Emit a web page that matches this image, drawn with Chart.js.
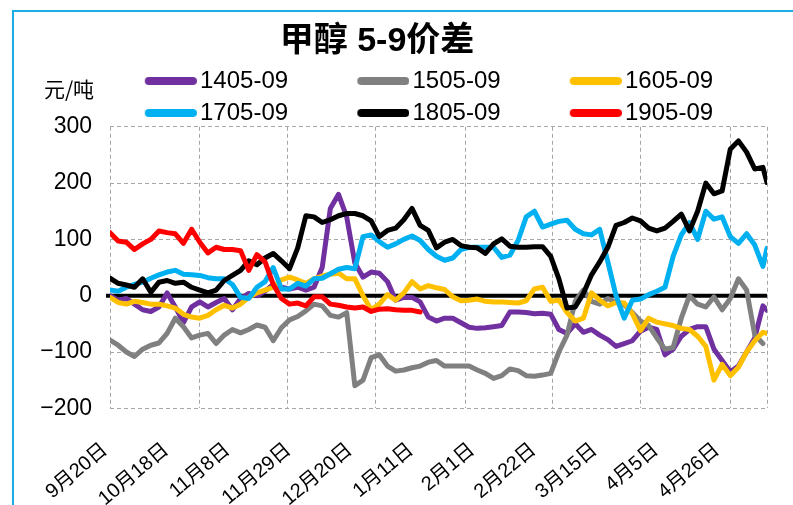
<!DOCTYPE html>
<html><head><meta charset="utf-8">
<script src="https://cdn.jsdelivr.net/npm/chart.js@4"></script>
<style>
html,body{margin:0;padding:0;background:#fff;}
#wrap{position:relative;width:793px;height:505px;overflow:hidden;background:#fff;}
#frame{position:absolute;left:12px;top:10px;width:820px;height:540px;border-left:2px solid #1AADE6;border-top:2px solid #1AADE6;box-sizing:border-box;}
#c{position:absolute;left:0;top:0;}
</style></head><body>
<div id="wrap"><div id="frame"></div><canvas id="c" width="793" height="505"></canvas></div>
<script>
// ---- DATA (x = trading-day index since 9月20日) ----
const tradingDay = [0,2,4,6,8,10,12,14,16,18,20,22,24,26,28,30,32,34,36,38,40,42,44,46,48,50,52,54,56,58,60,62,64,66,68,70,72,74,76,78,80,82,84,86,88,90,92,94,96,98,100,102,104,106,108,110,112,114,116,118,120,122,124,126,128,130,132,134,136,138,140,142,144,146,148,150,152,154,156,158,160,161];

const s1405 = [0,-8,-5,-15,-25,-28,-20,5,-20,-48,
  -20,-11,-20,-12,-5,-25,-5,4,0,8,
  20,15,12,15,10,15,50,155,180,140,
  58,33,42,40,25,-8,-3,-3,-11,-38,
  -45,-40,-40,-48,-56,-58,-57,-55,-53,-29,
  -29,-30,-32,-31,-33,-60,-67,-50,-65,-60,
  -70,-78,-90,-85,-80,-63,-56,-60,-105,-95,
  -72,-60,-55,-55,-95,-115,-135,-125,-100,-75,
  -18,-26];
const s1505 = [-79,-88,-100,-108,-95,-88,-84,-67,-40,-55,
  -75,-70,-67,-85,-70,-60,-66,-60,-52,-56,
  -80,-57,-43,-37,-27,-15,-18,-35,-38,-30,
  -160,-150,-110,-105,-125,-134,-132,-128,-125,-118,
  -115,-125,-125,-125,-125,-132,-138,-147,-142,-130,
  -133,-142,-143,-141,-138,-100,-70,-10,10,-10,
  -15,-5,-12,-16,-30,-45,-53,-75,-95,-92,
  -40,0,-15,-20,-2,-25,-5,30,10,-70,
  -85,null];
const s1605 = [-3,-12,-15,-10,-12,-15,-15,-18,-22,-33,
  -38,-40,-35,-25,-17,-22,-15,-3,5,10,
  15,28,33,28,22,30,35,38,40,30,
  30,0,-25,-15,2,-8,5,25,12,18,
  14,11,-2,-9,-8,-6,-10,-11,-11,-12,
  -13,-9,12,15,-10,-8,-30,-45,-40,5,
  -8,-18,-12,-13,-32,-62,-40,-47,-50,-53,
  -58,-60,-72,-90,-150,-122,-142,-127,-100,-80,
  -65,-67];
const s1705 = [10,8,15,20,24,31,37,42,45,38,
  37,36,32,30,30,20,-3,-5,15,25,
  50,12,12,22,17,30,31,39,47,50,
  48,105,108,96,86,92,100,106,98,82,
  70,63,67,82,86,86,86,86,68,72,
  98,140,150,122,127,132,134,118,110,108,
  118,60,0,-40,-8,-6,2,8,15,70,
  108,130,100,150,136,140,105,93,110,90,
  52,84];
const s1805 = [31,22,19,15,30,6,24,27,22,24,
  15,10,5,10,27,36,45,62,55,67,
  75,62,48,85,142,140,130,135,142,146,
  146,142,133,105,116,120,135,155,125,116,
  85,95,100,89,86,85,75,92,101,88,
  86,86,87,87,70,30,-22,-20,4,37,
  60,86,125,130,138,133,120,115,120,132,
  145,115,150,200,181,186,260,275,255,225,
  228,201];
const s1905 = [112,97,95,82,92,100,115,112,110,93,
  118,95,76,86,82,82,80,45,73,60,
  20,-5,-15,-13,-18,-2,-2,-15,-17,-20,
  -22,-20,-28,-24,-23,-25,-26,-26,-29,null,
  null,null,null,null,null,null,null,null,null,null,
  null,null,null,null,null,null,null,null,null,null,
  null,null,null,null,null,null,null,null,null,null,
  null,null,null,null,null,null,null,null,null,null,
  null,null];

const seriesNames = ['1405-09','1505-09','1605-09','1705-09','1805-09','1905-09'];
const seriesColors = ['#7030A0','#808080','#FFC000','#00B0F0','#000000','#FF0000'];
const seriesValues = [s1405, s1505, s1605, s1705, s1805, s1905];

const tickDays = [0,15,30,45,60,75,90,105,120,135,150];
const tickLabels = ['9月20日','10月18日','11月8日','11月29日','12月20日','1月11日','2月1日','2月22日','3月15日','4月5日','4月26日'];
const gridDays = [0,22,43.5,65,87,108.5,130,152,161];
const yTicks = [-200,-100,0,100,200,300];

const chartTitle = '甲醇 5-9价差';
const unitLabel = '元/吨';

// ---- STYLE ----
const FONT = '"Liberation Sans Narrow", "Arial Narrow", "Liberation Sans", "Noto Sans CJK SC", sans-serif';
const CJK = '"Noto Sans CJK SC", sans-serif';
const GRID_COLOR = '#A6A6A6';
const LEGEND_SIZE = 24;
const LEGEND_PAD = 8;
const COL_STEP = 212.5;
const LINE_START = 145;

const meas = document.createElement('canvas').getContext('2d');
meas.font = LEGEND_SIZE + 'px ' + FONT;
const textW = Math.max(...seriesNames.map(n => meas.measureText(n).width));
const SW = COL_STEP - LEGEND_SIZE / 2 - LEGEND_PAD - textW;

function swatch(color) {
  const c = document.createElement('canvas');
  c.width = Math.round(SW + 18); c.height = 10;
  const g = c.getContext('2d');
  g.strokeStyle = color; g.lineWidth = 8; g.lineCap = 'round';
  g.beginPath(); g.moveTo(c.width - 52 + 4, 5); g.lineTo(c.width - 4, 5); g.stroke();
  return c;
}
const swatches = seriesColors.map(swatch);

const allTicks = Array.from(new Set([...tickDays, ...gridDays])).sort((a, b) => a - b);

const zeroLine = {
  id: 'zeroLine',
  beforeDatasetsDraw(chart) {
    const {ctx, chartArea, scales} = chart;
    const y = scales.y.getPixelForValue(0);
    ctx.save();
    ctx.strokeStyle = '#000'; ctx.lineWidth = 4;
    ctx.beginPath(); ctx.moveTo(chartArea.left - 4, y); ctx.lineTo(chartArea.right, y); ctx.stroke();
    ctx.restore();
  }
};
const placeBlocks = {
  id: 'placeBlocks',
  afterLayout(chart) {
    const t = chart.titleBlock;
    const lh = 34 * 1.2;
    t.top = 42 - lh / 2; t.bottom = t.top + lh; t.left = 377 - 300; t.right = 377 + 300;
    const lg = chart.legend;
    const h = lg.bottom - lg.top;
    lg.top = 81 - LEGEND_SIZE / 2 - LEGEND_PAD; lg.bottom = lg.top + h;
    lg.left = LINE_START + 43 - SW - LEGEND_PAD; lg.right = 793;
  }
};
const unitText = {
  id: 'unitText',
  afterDraw(chart) {
    const ctx = chart.ctx;
    ctx.save();
    ctx.fillStyle = '#000'; ctx.font = '21px ' + CJK;
    ctx.textAlign = 'center'; ctx.textBaseline = 'middle';
    ctx.fillText(unitLabel, 69, 89);
    ctx.restore();
  }
};

new Chart(document.getElementById('c'), {
  type: 'line',
  data: {
    labels: tradingDay,
    datasets: seriesNames.map((name, i) => ({
      label: name,
      data: seriesValues[i],
      borderColor: seriesColors[i],
      backgroundColor: seriesColors[i],
      borderWidth: 5,
      pointRadius: 0,
      tension: 0,
      fill: false,
      spanGaps: false,
      borderJoinStyle: 'round',
      borderCapStyle: 'round',
      order: seriesNames.length - i
    }))
  },
  options: {
    responsive: false,
    animation: false,
    devicePixelRatio: 1,
    events: [],
    layout: { padding: { top: 12, left: 0, right: 26, bottom: 0 } },
    plugins: {
      title: {
        display: true, text: chartTitle, color: '#000', padding: 0,
        font: { family: FONT, size: 34, weight: 'bold' }
      },
      legend: {
        display: true, position: 'top', align: 'start',
        labels: {
          usePointStyle: true,
          pointStyleWidth: SW,
          padding: LEGEND_PAD,
          color: '#000',
          font: { family: FONT, size: LEGEND_SIZE },
          sort: (a, b) => a.datasetIndex - b.datasetIndex,
          generateLabels: chart => Chart.defaults.plugins.legend.labels.generateLabels(chart)
            .map(it => Object.assign(it, { pointStyle: swatches[it.datasetIndex], lineWidth: 0 }))
        }
      },
      tooltip: { enabled: false }
    },
    scales: {
      x: {
        type: 'linear', min: 0, max: 161,
        afterBuildTicks: s => { s.ticks = allTicks.map(v => ({ value: v })); },
        afterFit: s => { s.height = 96.7; s.paddingLeft = 0; s.paddingRight = 0; },
        ticks: {
          autoSkip: false, minRotation: 40, maxRotation: 40, padding: 30, labelOffset: -5,
          color: '#000', font: { family: FONT, size: 20 },
          callback: v => { const k = tickDays.indexOf(v); return k >= 0 ? tickLabels[k] : ''; }
        },
        grid: {
          drawTicks: false, lineWidth: 1,
          color: c => (c.tick && gridDays.includes(c.tick.value)) ? GRID_COLOR : 'rgba(0,0,0,0)'
        },
        border: { display: false, dash: [4, 3] }
      },
      y: {
        min: -200, max: 300,
        afterBuildTicks: s => { s.ticks = yTicks.map(v => ({ value: v })); },
        afterFit: s => { s.width = 110; },
        ticks: {
          padding: 18, color: '#000', font: { family: FONT, size: 23 },
          callback: v => v < 0 ? '\u2212' + Math.abs(v) : String(v)
        },
        grid: { drawTicks: false, color: GRID_COLOR, lineWidth: 1 },
        border: { display: false, dash: [4, 3] }
      }
    }
  },
  plugins: [zeroLine, placeBlocks, unitText]
});
</script>
</body></html>
